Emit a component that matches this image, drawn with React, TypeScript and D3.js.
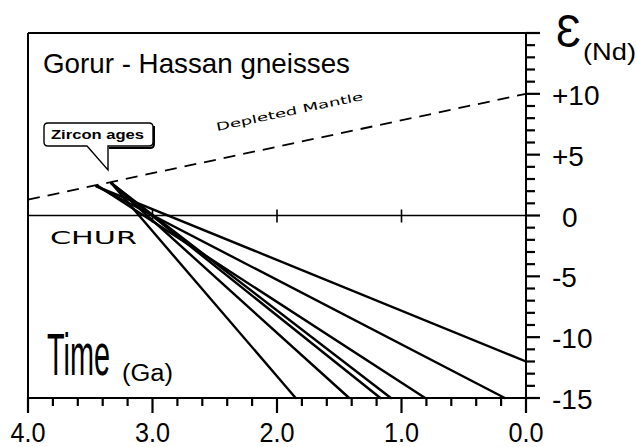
import * as d3 from "d3";

// x axis: age in Ga (old on the left)
const ageTicks = [4, 3, 2, 1, 0];
const ageLabels = ["4.0", "3.0", "2.0", "1.0", "0.0"];
// y axis: epsilon Nd
const epsTicks = [-15, -10, -5, 0, 5, 10];
const epsLabels = ["-15", "-10", "-5", "0", "+5", "+10"];

// depleted mantle evolution (dashed)
const dmAge = [4.0, 0.0];
const dmEps = [1.3, 10];

// Nd evolution lines of the gneisses: start on the DM curve, end at the frame
const startAge = [3.45, 3.45, 3.44, 3.33, 3.33, 3.33, 3.33];
const startEps = [2.4, 2.4, 2.45, 2.65, 2.65, 2.65, 2.65];
const endAge = [0.0, 0.17, 0.81, 1.085, 1.17, 1.42, 1.85];
const endEps = [-12, -15, -15, -15, -15, -15, -15];

const narrow = "'Liberation Sans Narrow', 'Arial Narrow', 'Liberation Sans', Arial, sans-serif";
const wide = "'DejaVu Sans', Verdana, sans-serif";

const minorAge = d3.range(0, 4.0001, 0.2);
const minorEps = d3.range(-15, 15.0001, 1);

export default function App() {
  const x = d3.scaleLinear().domain([4, 0]).range([28, 526]);
  const y = d3.scaleLinear().domain([-15, 15]).range([398, 33]);

  const line = d3.line<[number, number]>()
    .x(d => x(d[0]))
    .y(d => y(d[1]));

  // DM line label angle follows the dashed line
  const dmAngle = Math.atan2(y(dmEps[1]) - y(dmEps[0]), x(dmAge[1]) - x(dmAge[0])) * 180 / Math.PI;

  return (
    <svg width={637} height={447} style={{ position: "absolute", left: 0, top: 0, background: "#fff" }}>
      {/* frame */}
      <g stroke="#000" strokeWidth={2} fill="none">
        <line x1={x(4)} x2={539} y1={y(15)} y2={y(15)} />
        <line x1={x(4)} x2={x(4)} y1={y(15)} y2={y(-15)} />
        <line x1={x(4)} x2={539} y1={y(-15)} y2={y(-15)} />
        <line x1={x(0)} x2={x(0)} y1={y(15)} y2={y(-15) + 10} />
      </g>

      <g fontFamily={narrow} fontSize={27} textAnchor="middle">
        {ageTicks.map((t, i) => (
          <text key={i} x={x(t)} y={442} textLength={35} lengthAdjust="spacingAndGlyphs">{ageLabels[i]}</text>
        ))}
      </g>
      <g fontFamily={narrow} fontSize={28}>
        {epsTicks.map((e, i) => (
          <text key={i} x={epsLabels[i].length === 1 ? 562 : 552} y={y(e) + 11}>{epsLabels[i]}</text>
        ))}
      </g>

      {/* CHUR line */}
      <line x1={x(4)} x2={x(0)} y1={y(0)} y2={y(0)} stroke="#000" strokeWidth={1.6} />

      {/* depleted mantle */}
      <path d={line(dmAge.map((a, i) => [a, dmEps[i]] as [number, number])) || ""}
        fill="none" stroke="#000" strokeWidth={1.8} strokeDasharray="12,8" />
      <text fontFamily={wide} fontSize={11} x={217} y={131}
        transform={`rotate(${dmAngle} 217 131)`} textLength={150} lengthAdjust="spacingAndGlyphs">Depleted Mantle</text>

      {/* evolution lines */}
      <g fill="none" stroke="#000" strokeWidth={2.4} strokeLinecap="round">
        {startAge.map((a, i) => (
          <path key={i} d={line([[a, startEps[i]], [endAge[i], endEps[i]]]) || ""} />
        ))}
      </g>

      {/* zircon ages callout */}
      <path d="M48,123 H149 Q153,123 153,127 V142 Q153,146 149,146 H108 V170 L87,146 H48 Q44,146 44,142 V127 Q44,123 48,123 Z"
        fill="#fff" stroke="#000" strokeWidth={1.4} />
      <path d="M154,126 V144 Q154,148 150,148 H109" fill="none" stroke="#000" strokeWidth={2} />
      <text x={51} y={139} fontFamily="'Liberation Sans', Arial, sans-serif" fontWeight="bold" fontSize={12}
        textLength={93} lengthAdjust="spacingAndGlyphs">Zircon ages</text>

      {/* titles */}
      <text x={43} y={73} fontFamily={narrow} fontSize={28} textLength={307} lengthAdjust="spacingAndGlyphs">Gorur - Hassan gneisses</text>
      <text x={50} y={244} fontFamily={wide} fontSize={18} textLength={87} lengthAdjust="spacingAndGlyphs">CHUR</text>
      <text x={47} y={375} fontFamily={narrow} fontSize={60} textLength={63} lengthAdjust="spacingAndGlyphs">Time</text>
      <text x={122} y={381} fontFamily={narrow} fontSize={23} textLength={51} lengthAdjust="spacingAndGlyphs">(Ga)</text>
      <text x={556} y={47} fontFamily={narrow} fontSize={47} textLength={25} lengthAdjust="spacingAndGlyphs">Ɛ</text>
      <text x={583} y={60} fontFamily={narrow} fontSize={24} textLength={53} lengthAdjust="spacingAndGlyphs">(Nd)</text>

      {/* axis ticks, drawn last */}
      <g stroke="#000" strokeWidth={2.2}>
        {minorAge.map((t, i) => {
          const major = Math.abs(t - Math.round(t)) < 1e-6;
          return <line key={"x" + i} x1={x(t)} x2={x(t)} y1={y(-15)} y2={y(-15) + (major ? 15 : 8)} />;
        })}
        {minorEps.map((e, i) => (
          <line key={"y" + i} x1={x(0)} x2={x(0) + (e % 5 === 0 ? 14 : 9)} y1={y(e)} y2={y(e)} />
        ))}
        {[3, 2, 1].map(t => (
          <line key={"c" + t} x1={x(t)} x2={x(t)} y1={y(0) - 6} y2={y(0) + 7} strokeWidth={1.6} />
        ))}
      </g>
    </svg>
  );
}
